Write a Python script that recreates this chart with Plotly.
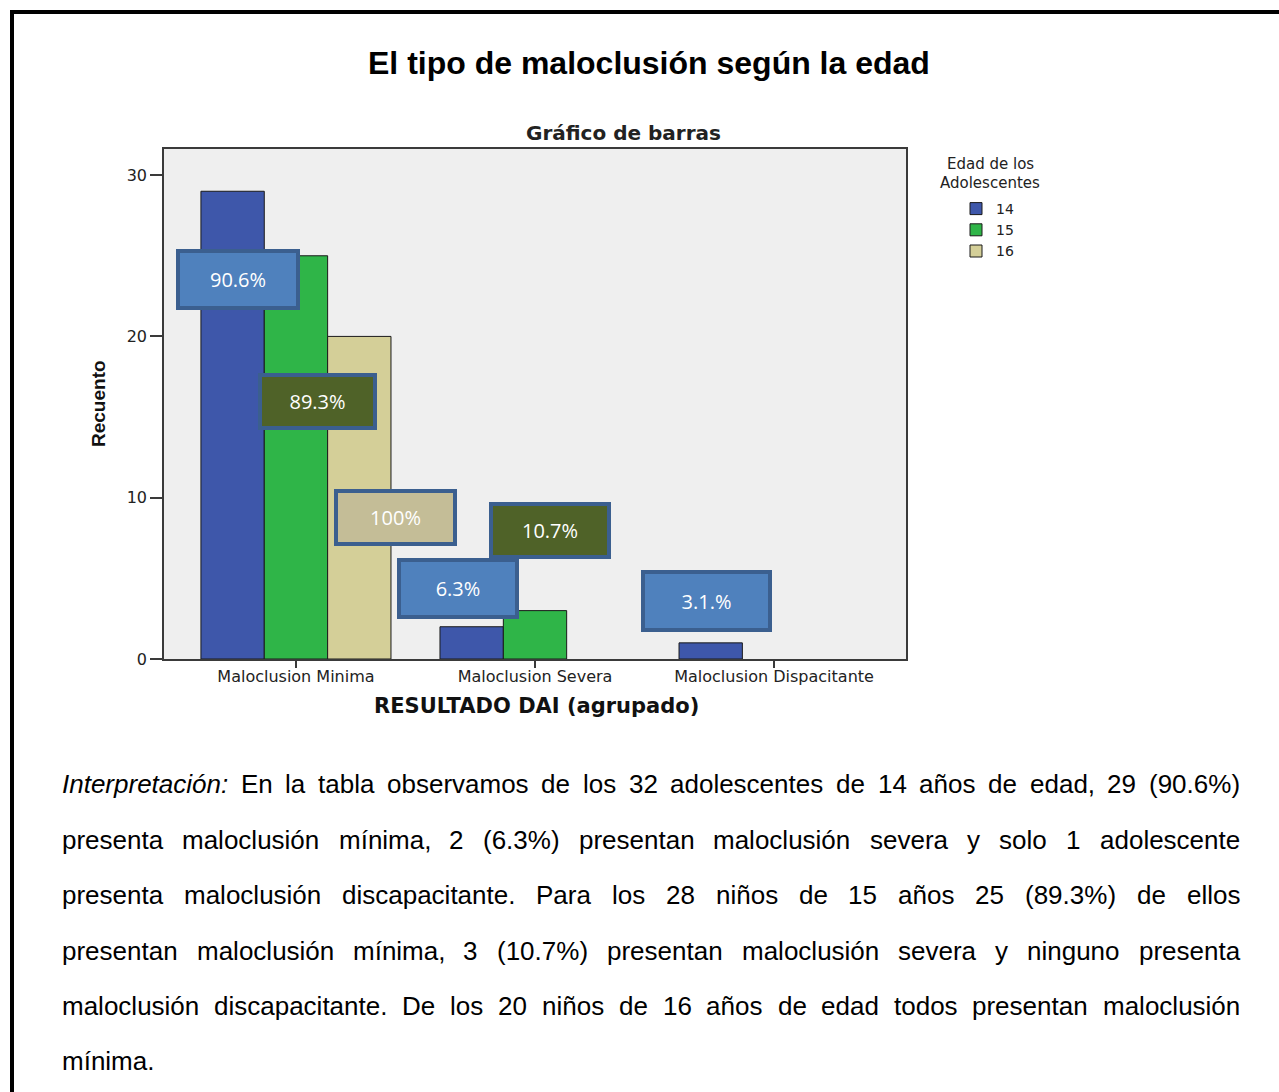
import plotly.graph_objects as go

W, H = 1279, 1092

# ---------------- data ----------------
categories = ["Maloclusion Minima", "Maloclusion Severa", "Maloclusion Dispacitante"]
ages = ["14", "15", "16"]
counts_14 = [29, 2, 1]
counts_15 = [25, 3, 0]
counts_16 = [20, 0, 0]
bar_colors = ["#3E57AA", "#2FB548", "#D4CF98"]
y_ticks = [0, 10, 20, 30]

pct_labels = ["90.6%", "89.3%", "100%", "10.7%", "6.3%", "3.1.%"]
pct_fills = ["#4F81BD", "#4F6228", "#C4BD97", "#4F6228", "#4F81BD", "#4F81BD"]

title_text = "El tipo de maloclusión según la edad"
chart_title = "Gráfico de barras"
x_title = "RESULTADO DAI (agrupado)"
y_title = "Recuento"
legend_title_lines = ["Edad de los", "Adolescentes"]

interpretation_lines = [
    "Interpretación: En la tabla observamos de los 32 adolescentes de 14 años de edad, 29 (90.6%)",
    "presenta maloclusión mínima, 2 (6.3%) presentan maloclusión severa y solo 1 adolescente",
    "presenta maloclusión discapacitante. Para los 28 niños de 15 años 25 (89.3%) de ellos",
    "presentan maloclusión mínima, 3 (10.7%) presentan maloclusión severa y ninguno presenta",
    "maloclusión discapacitante. De los 20 niños de 16 años de edad todos presentan maloclusión",
    "mínima.",
]

# ---------------- helpers ----------------
def px_x(p):
    return p / W

def px_y(p):
    return 1 - p / H

fig = go.Figure()
for name, vals, col in zip(ages, [counts_14, counts_15, counts_16], bar_colors):
    fig.add_trace(go.Bar(
        x=categories, y=vals, name=name,
        marker=dict(color=col,
                    line=dict(color="#1a1a1a", width=[1 if v else 0 for v in vals])),
    ))

axis_font = dict(family="DejaVu Sans", size=16, color="#222")

fig.update_layout(
    width=W, height=H,
    margin=dict(l=0, r=0, t=0, b=0, autoexpand=False),
    paper_bgcolor="white",
    plot_bgcolor="#EFEFEF",
    barmode="group",
    bargap=0.205,
    bargroupgap=0,
    showlegend=True,
    legend=dict(
        x=px_x(956), y=px_y(193), xanchor="left", yanchor="top",
        font=dict(family="DejaVu Sans", size=14, color="#222"),
        bgcolor="rgba(0,0,0,0)", tracegroupgap=0,
    ),
    xaxis=dict(
        domain=[px_x(164), px_x(906)], automargin=False,
        type="category", categoryorder="array", categoryarray=categories,
        range=[-0.552, 2.552],
        showline=True, mirror=True, linecolor="#3a3a3a", linewidth=1.5,
        ticks="outside", ticklen=7, tickcolor="#3a3a3a", tickwidth=1.5,
        ticklabelstandoff=-5,
        tickfont=axis_font, showgrid=False, fixedrange=True,
    ),
    yaxis=dict(
        domain=[px_y(659), px_y(149)], automargin=False,
        range=[0, 31.62],
        tickvals=y_ticks,
        showline=True, mirror=True, linecolor="#3a3a3a", linewidth=1.5,
        ticks="outside", ticklen=12, tickcolor="#3a3a3a", tickwidth=1.5,
        tickfont=axis_font, showgrid=False, zeroline=False, fixedrange=True,
    ),
)

annotations = []
# main title
annotations.append(dict(
    text=f"<b>{title_text}</b>", x=px_x(649), y=px_y(63), xref="paper", yref="paper",
    xanchor="center", yanchor="middle", showarrow=False,
    font=dict(family="Liberation Sans", size=32, color="black"),
))
# chart title
annotations.append(dict(
    text=f"<b>{chart_title}</b>", x=px_x(623), y=px_y(133), xref="paper", yref="paper",
    xanchor="center", yanchor="middle", showarrow=False,
    font=dict(family="DejaVu Sans", size=20, color="#222"),
))
# x title
annotations.append(dict(
    text=f"<b>{x_title}</b>", x=px_x(536), y=px_y(706), xref="paper", yref="paper",
    xanchor="center", yanchor="middle", showarrow=False,
    font=dict(family="DejaVu Sans", size=21, color="#111"),
))
# y title
annotations.append(dict(
    text=f"<b>{y_title}</b>", x=px_x(98), y=px_y(404), xref="paper", yref="paper",
    xanchor="center", yanchor="middle", showarrow=False, textangle=-90,
    font=dict(family="Liberation Sans Narrow, Liberation Sans", size=19, color="#111"),
))
# legend title (two lines)
for txt, ty in zip(legend_title_lines, [164, 183]):
    annotations.append(dict(
        text=txt, x=px_x(990), y=px_y(ty), xref="paper", yref="paper",
        xanchor="center", yanchor="middle", showarrow=False,
        font=dict(family="DejaVu Sans", size=15, color="#222"),
    ))

# percentage callouts: (x in category units, y in counts, box width, box height)
callout_pos = [
    (-0.243, 23.53, 124, 61),
    (0.090, 15.96, 119, 57),
    (0.416, 8.77, 123, 57),
    (1.063, 7.97, 122, 57),
    (0.678, 4.37, 122, 61),
    (1.718, 3.60, 131, 62),
]
for lab, fill, (cx, cy, bw, bh) in zip(pct_labels, pct_fills, callout_pos):
    annotations.append(dict(
        text=lab, x=cx, y=cy, xref="x", yref="y", showarrow=False,
        xanchor="center", yanchor="middle",
        width=bw - 10, height=bh - 10, borderpad=1,
        bgcolor=fill, bordercolor="#3B5F8F", borderwidth=4,
        font=dict(family="Open Sans", size=20, color="white"),
    ))

# justified interpretation paragraph
CW = {' ': 278, '(': 333, ')': 333, '%': 889, ',': 278, '.': 278, ':': 278}
for d in "0123456789":
    CW[d] = 556
lower = dict(a=556, b=556, c=500, d=556, e=556, f=278, g=556, h=556, i=222, j=222, k=500,
             l=222, m=833, n=556, o=556, p=556, q=556, r=333, s=500, t=278, u=556, v=500,
             w=722, x=500, y=500, z=500)
CW.update(lower)
upper = dict(A=667, B=667, C=722, D=722, E=667, F=611, G=778, H=722, I=278, J=500, K=667,
             L=556, M=833, N=722, O=778, P=667, Q=778, R=722, S=667, T=611, U=722, V=667,
             W=944, X=667, Y=667, Z=611)
CW.update(upper)
ACC = {'á': 'a', 'é': 'e', 'í': 'i', 'ó': 'o', 'ú': 'u', 'ñ': 'n'}

FS = 26
def word_w(wd):
    return sum(CW.get(ACC.get(c, c), 556) for c in wd) / 1000 * FS

left, right = 60, 1238
line_y = [784, 840, 895, 951, 1006, 1061]
para_font = dict(family="Liberation Sans", size=FS, color="black")
for li, (line, ly) in enumerate(zip(interpretation_lines, line_y)):
    words = line.split(" ")
    widths = [word_w(w) for w in words]
    last = li == len(interpretation_lines) - 1
    if last or len(words) == 1:
        gap = CW[' '] / 1000 * FS
    else:
        gap = (right - left - sum(widths)) / (len(words) - 1)
    xpos = left
    for wi, (wd, ww) in enumerate(zip(words, widths)):
        txt = f"<i>{wd}</i>" if (li == 0 and wi == 0) else wd
        annotations.append(dict(
            text=txt, x=px_x(xpos), y=px_y(ly), xref="paper", yref="paper",
            xanchor="left", yanchor="middle", showarrow=False, font=para_font,
        ))
        xpos += ww + gap

fig.update_layout(annotations=annotations)

# page frame
fig.update_layout(shapes=[
    dict(type="line", xref="paper", yref="paper", x0=px_x(10), x1=1, y0=px_y(12), y1=px_y(12),
         line=dict(color="black", width=4)),
    dict(type="line", xref="paper", yref="paper", x0=px_x(12), x1=px_x(12), y0=px_y(10), y1=0,
         line=dict(color="black", width=4)),
])

fig.write_html("out.html")
